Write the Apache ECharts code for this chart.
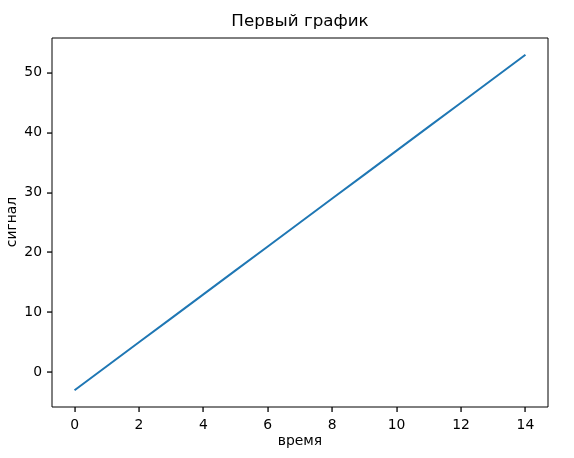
<!DOCTYPE html>
<html>
<head>
<meta charset="utf-8">
<script src="https://cdn.jsdelivr.net/npm/echarts@6/dist/echarts.min.js"></script>
<style>html,body{margin:0;padding:0;background:#fff}#c{width:574px;height:458px}</style>
</head>
<body>
<div id="c"></div>
<script>
const titleText = 'Первый график';
const xName = 'время';
const yName = 'сигнал';
const times = [0, 1, 2, 3, 4, 5, 6, 7, 8, 9, 10, 11, 12, 13, 14];
const signal = [-3, 1, 5, 9, 13, 17, 21, 25, 29, 33, 37, 41, 45, 49, 53];
const xTicks = [0, 2, 4, 6, 8, 10, 12, 14];
const yTicks = [0, 10, 20, 30, 40, 50];

const X_MIN = -0.7, X_MAX = 14.7, Y_MIN = -5.8, Y_MAX = 55.8;

const chart = echarts.init(document.getElementById('c'), null, {renderer: 'canvas'});
const font = 'DejaVu Sans';
const texts = [
  {type: 'text', x: 300, y: 22, style: {text: titleText, fill: '#000', font: '16.7px "DejaVu Sans"', textAlign: 'center', textVerticalAlign: 'middle'}},
  {type: 'text', x: 300, y: 441, style: {text: xName, fill: '#000', font: '13.9px "DejaVu Sans"', textAlign: 'center', textVerticalAlign: 'middle'}},
  {type: 'text', x: 12, y: 222, rotation: Math.PI / 2, style: {text: yName, fill: '#000', font: '13.9px "DejaVu Sans"', textAlign: 'center', textVerticalAlign: 'middle'}}
];
chart.setOption({
  animation: false,
  backgroundColor: '#ffffff',
  grid: {left: 52, right: 26, top: 38, bottom: 51, show: true, borderColor: '#000', borderWidth: 1, backgroundColor: 'transparent'},
  xAxis: {
    type: 'value', min: X_MIN, max: X_MAX,
    axisLine: {show: false, onZero: false},
    splitLine: {show: false},
    axisTick: {show: false},
    axisLabel: {show: true, margin: 11, color: '#000', fontFamily: font, fontSize: 13.9, customValues: xTicks}
  },
  yAxis: {
    type: 'value', min: Y_MIN, max: Y_MAX,
    axisLine: {show: false, onZero: false},
    splitLine: {show: false},
    axisTick: {show: false},
    axisLabel: {show: true, margin: 10, color: '#000', fontFamily: font, fontSize: 13.9, customValues: yTicks}
  },
  series: [{
    type: 'line',
    data: times.map((t, i) => [t, signal[i]]),
    showSymbol: false,
    lineStyle: {color: '#1f77b4', width: 2},
    itemStyle: {color: '#1f77b4'}
  }],
  graphic: texts
});

// axis tick marks, positioned through the chart's own scales
const tickEls = [];
xTicks.forEach(v => {
  const p = chart.convertToPixel({xAxisIndex: 0, yAxisIndex: 0}, [v, Y_MIN]);
  tickEls.push({type: 'rect', shape: {x: Math.round(p[0]) - 0.6, y: Math.round(p[1]), width: 1.3, height: 5}, style: {fill: '#000'}, z: 100, zlevel: 1});
});
yTicks.forEach(v => {
  const p = chart.convertToPixel({xAxisIndex: 0, yAxisIndex: 0}, [X_MIN, v]);
  tickEls.push({type: 'rect', shape: {x: Math.round(p[0]) - 5, y: Math.round(p[1]) - 0.6, width: 5, height: 1.3}, style: {fill: '#000'}, z: 100, zlevel: 1});
});
chart.setOption({graphic: texts.concat(tickEls)});
</script>
</body>
</html>
